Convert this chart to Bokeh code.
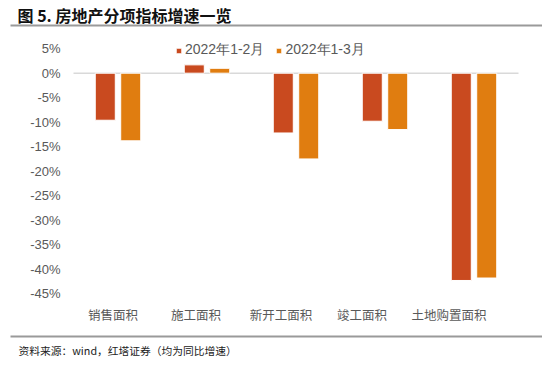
from bokeh.plotting import figure
from bokeh.models import (ColumnDataSource, Range1d, FixedTicker, PrintfTickFormatter,
                          Legend, LegendItem, Label, BoxAnnotation)
from bokeh.embed import file_html
from bokeh.resources import INLINE

# ---- data ----
title_text = "图 5. 房地产分项指标增速一览"
source_text = "资料来源：wind，红塔证券（均为同比增速）"
categories = ["销售面积", "施工面积", "新开工面积", "竣工面积", "土地购置面积"]
series_names = ["2022年1-2月", "2022年1-3月"]
ytd_feb = [-9.6, 1.7, -12.2, -9.8, -42.3]
ytd_mar = [-13.8, 1.0, -17.5, -11.5, -41.8]
y_ticks = [-45, -40, -35, -30, -25, -20, -15, -10, -5, 0, 5]
colors = ["#C94A1F", "#E07D10"]

# ---- layout constants (pixels) ----
W, H = 542, 362
PLOT_L, PLOT_R = 73, 518          # plot area left / right
ZERO_Y, PX_PER_PCT = 72.7, 4.9    # pixel row of 0%, pixels per 1%
label_nudge = [5, 11, 15, 23, 25] # category label shift to the left (px), as in the original
bar_w, bar_off = 0.225, 0.143

cat_w = (PLOT_R - PLOT_L) / len(categories)
x_lo = -PLOT_L / cat_w
x_hi = (W - PLOT_L) / cat_w
y_hi = ZERO_Y / PX_PER_PCT
y_lo = -(H - ZERO_Y) / PX_PER_PCT

n = len(categories)
idx = list(range(n))
src = ColumnDataSource(dict(
    cat=categories,
    xa=[i + 0.5 - bar_off for i in idx],
    xb=[i + 0.5 + bar_off for i in idx],
    a=ytd_feb, b=ytd_mar))

p = figure(width=W, height=H, x_range=Range1d(x_lo, x_hi), y_range=Range1d(y_lo, y_hi),
           output_backend="svg", toolbar_location=None, min_border=0,
           outline_line_color=None)
p.grid.visible = False

# zero baseline across the plot area
p.segment(x0=[0], y0=[0], x1=[n], y1=[0], line_color="#D9D9D9", line_width=1.5)

r1 = p.vbar(x="xa", top="a", width=bar_w, source=src,
            fill_color=colors[0], line_color="white", line_width=1)
r2 = p.vbar(x="xb", top="b", width=bar_w, source=src,
            fill_color=colors[1], line_color="white", line_width=1)

# x axis: category labels
xt = [i + 0.5 - label_nudge[i] / cat_w for i in idx]
p.xaxis.fixed_location = -46.4
p.xaxis.ticker = FixedTicker(ticks=xt)
p.xaxis.major_label_overrides = {t: c for t, c in zip(xt, categories)}
p.xaxis.axis_line_color = None
p.xaxis.major_tick_line_color = None
p.xaxis.minor_tick_line_color = None
p.xaxis.major_tick_out = 0
p.xaxis.major_tick_in = 0
p.xaxis.major_label_standoff = 4
p.xaxis.major_label_text_font = "Noto Sans CJK SC"
p.xaxis.major_label_text_font_size = "12.5px"
p.xaxis.major_label_text_color = "#595959"

# y axis
p.yaxis.fixed_location = 0
p.yaxis.ticker = FixedTicker(ticks=y_ticks)
p.yaxis.formatter = PrintfTickFormatter(format="%d%%")
p.yaxis.axis_line_color = None
p.yaxis.major_tick_line_color = None
p.yaxis.minor_tick_line_color = None
p.yaxis.major_tick_out = 0
p.yaxis.major_tick_in = 0
p.yaxis.major_label_standoff = 13
p.yaxis.major_label_text_font = "Liberation Sans"
p.yaxis.major_label_text_font_size = "13px"
p.yaxis.major_label_text_color = "#595959"

legend = Legend(items=[LegendItem(label=series_names[0], renderers=[r1]),
                       LegendItem(label=series_names[1], renderers=[r2])],
                location=(175, 303), orientation="horizontal",
                glyph_width=7, glyph_height=7, label_standoff=3, spacing=11,
                padding=0, margin=0, border_line_color=None, background_fill_alpha=0,
                label_text_font="Liberation Sans", label_text_font_size="14px",
                label_text_color="#595959")
p.add_layout(legend)

# ---- title, rules and source (screen units; frame == whole canvas) ----
p.add_layout(Label(x=17, y=H - 14, x_units="screen", y_units="screen", text=title_text,
                   text_font="Noto Sans CJK SC", text_font_size="16px", text_font_style="bold",
                   text_baseline="middle", text_align="left", text_color="#111111"))
for y_mid in (25, 336):
    p.add_layout(BoxAnnotation(left=10, right=W, bottom=H - y_mid - 1, top=H - y_mid + 1,
                               left_units="screen", right_units="screen",
                               bottom_units="screen", top_units="screen",
                               fill_color="#9a9a9a", fill_alpha=1, line_color=None))
p.add_layout(Label(x=18, y=H - 350, x_units="screen", y_units="screen", text=source_text,
                   text_font="Noto Sans CJK SC", text_font_size="10.75px",
                   text_baseline="middle", text_align="left", text_color="#222222"))

open("out.html", "w").write(file_html(p, INLINE))
